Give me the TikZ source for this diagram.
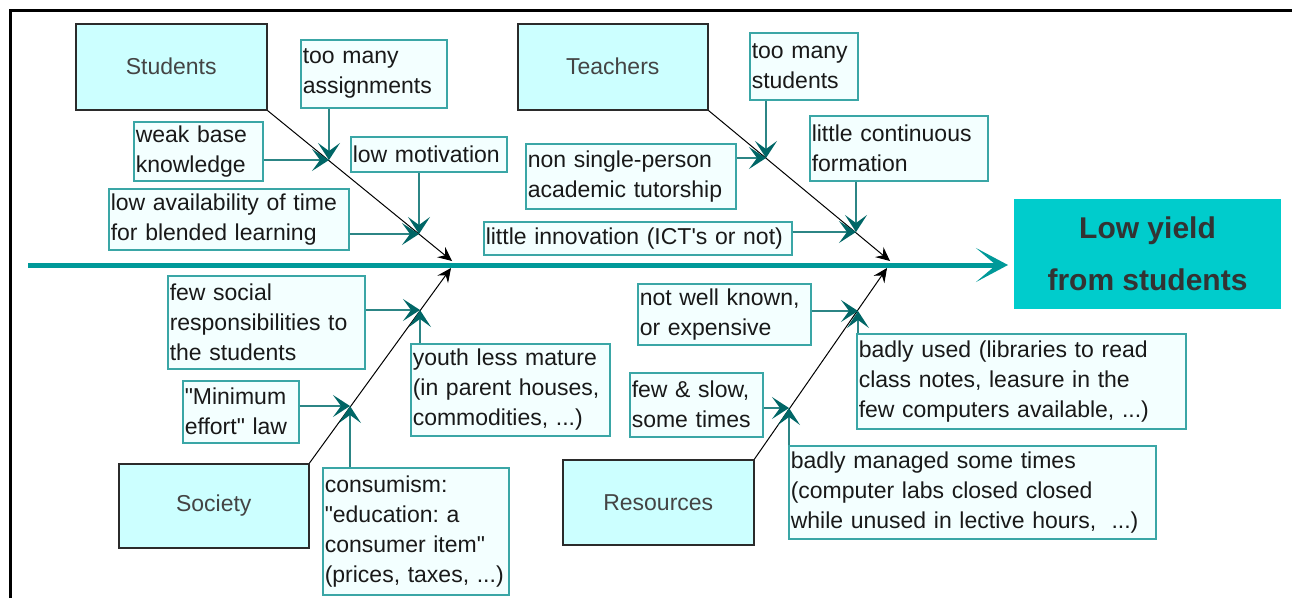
\documentclass[tikz,border=0pt]{standalone}
\usepackage{fontspec}
\setmainfont{Liberation Sans}[Ligatures=TeXOff]
\usetikzlibrary{arrows.meta}
\frenchspacing

\definecolor{catfill}{HTML}{CCFFFF}
\definecolor{catline}{HTML}{2B2B2B}
\definecolor{cattext}{HTML}{444444}
\definecolor{subfill}{HTML}{F3FFFF}
\definecolor{subline}{HTML}{3AA6A6}
\definecolor{twigline}{HTML}{2C8585}
\definecolor{twighead}{HTML}{006666}
\definecolor{spinecol}{HTML}{009999}
\definecolor{yieldfill}{HTML}{00CCCC}
\definecolor{yieldtext}{HTML}{333333}

\tikzset{
  cause/.style={draw=catline, line width=1.5pt, fill=catfill, text=cattext,
    anchor=north west, inner sep=0pt, font=\fontsize{23}{30}\selectfont},
  sub/.style={draw=subline, line width=1.5pt, fill=subfill, text=black!90,
    anchor=north west, align=left, inner xsep=2pt, inner ysep=0pt,
    font=\fontsize{23}{30}\selectfont\frenchspacing},
  bone/.style={draw=black, line width=1pt, -{Stealth[length=14pt,width=13pt,inset=5pt]}},
  twig/.style={draw=twigline, line width=1.6pt,
    -{Stealth[length=17pt,width=22pt,inset=8pt,color=twighead]}},
}

\begin{document}
\begin{tikzpicture}[x=1pt,y=-1pt]
  \useasboundingbox (0,0) rectangle (1292,598);
  \draw[line width=3pt] (10,598) -- (10,10) -- (1292,10);

  % spine and effect
  \node[fill=yieldfill, text=yieldtext, minimum width=267pt, minimum height=110pt,
    align=center, font=\fontsize{30}{52}\selectfont\bfseries] (yield) at (1147.5,254)
    {Low yield\\from students};
  \coordinate (tail) at (28,265);
  \coordinate (head) at (1008,265);
  \draw[spinecol, line width=5pt, -{Stealth[length=32pt,width=34pt,inset=20pt]}] (tail) -- (head);

  % main causes
  \node[cause, minimum width=191pt, minimum height=86pt] (students) at (75,23) {Students};
  \node[cause, minimum width=190pt, minimum height=86pt] (teachers) at (517,23) {Teachers};
  \node[cause, minimum width=190pt, minimum height=84pt] (society) at (118,463) {Society};
  \node[cause, minimum width=191pt, minimum height=85pt] (resources) at (562,459) {Resources};

  \coordinate (stuTip) at (452,261);
  \coordinate (teaTip) at (890,261);
  \coordinate (socTip) at (451,268);
  \coordinate (resTip) at (887,268);
  \draw[bone] (students.south east) -- (stuTip);
  \draw[bone] (teachers.south east) -- (teaTip);
  \draw[bone] (society.north east) -- (socTip);
  \draw[bone] (resources.north east) -- (resTip);

  % junctions on the bones
  \coordinate (j1) at (329,160);
  \coordinate (j2) at (419,234);
  \coordinate (j3) at (766,158);
  \coordinate (j4) at (856,232);
  \coordinate (j5) at (420,310);
  \coordinate (j6) at (350,406);
  \coordinate (j7) at (858,311);
  \coordinate (j8) at (789,408);

  % students
  \node[sub, text width=142pt, minimum height=68pt] (assign) at (300,39) {too many\\assignments};
  \node[sub, text width=125pt, minimum height=59pt] (weak) at (133,121) {weak base\\knowledge};
  \node[sub, text width=152pt, minimum height=35pt] (motiv) at (350,136) {low motivation};
  \node[sub, text width=236pt, minimum height=61pt] (avail) at (108,188) {low availability of time\\for blended learning};
  \draw[twig] (j1 |- assign.south) -- (j1);
  \draw[twig] (weak.east |- j1) -- (j1);
  \draw[twig] (j2 |- motiv.south) -- (j2);
  \draw[twig] (avail.east |- j2) -- (j2);

  % teachers
  \node[sub, text width=104pt, minimum height=67pt] (manyst) at (749,32) {too many\\students};
  \node[sub, text width=206pt, minimum height=65pt] (tutor) at (525,143) {non single-person\\academic tutorship};
  \node[sub, text width=174pt, minimum height=65pt] (formation) at (809,115) {little continuous\\formation};
  \node[sub, text width=304pt, minimum height=33pt] (innov) at (483,221) {little innovation (ICT's or not)};
  \draw[twig] (j3 |- manyst.south) -- (j3);
  \draw[twig] (tutor.east |- j3) -- (j3);
  \draw[twig] (j4 |- formation.south) -- (j4);
  \draw[twig] (innov.east |- j4) -- (j4);

  % society
  \node[sub, text width=193pt, minimum height=93pt] (social) at (167,275) {few social\\responsibilities to\\the students};
  \node[sub, text width=195pt, minimum height=92pt] (youth) at (410,343) {youth less mature\\(in parent houses,\\commodities, ...)};
  \node[sub, text width=112pt, minimum height=62pt] (effort) at (182,380) {"Minimum\\effort" law};
  \node[sub, text width=182pt, minimum height=127pt] (consum) at (322,467) {consumism:\\"education: a\\consumer item"\\(prices, taxes, ...)};
  \draw[twig] (social.east |- j5) -- (j5);
  \draw[twig] (j5 |- youth.north) -- (j5);
  \draw[twig] (effort.east |- j6) -- (j6);
  \draw[twig] (j6 |- consum.north) -- (j6);

  % resources
  \node[sub, text width=169pt, minimum height=61pt] (known) at (637,283) {not well known,\\or expensive};
  \node[sub, text width=325pt, minimum height=95pt] (used) at (856,333) {badly used (libraries to read\\class notes, leasure in the\\few computers available, ...)};
  \node[sub, text width=129pt, minimum height=64pt] (slow) at (629,372) {few \& slow,\\some times};
  \node[sub, text width=363pt, minimum height=93pt] (managed) at (788,445) {badly managed some times\\(computer labs closed closed\\while unused in lective hours,\ \ ...)};
  \draw[twig] (known.east |- j7) -- (j7);
  \draw[twig] (j7 |- used.north) -- (j7);
  \draw[twig] (slow.east |- j8) -- (j8);
  \draw[twig] (j8 |- managed.north) -- (j8);
\end{tikzpicture}
\end{document}
